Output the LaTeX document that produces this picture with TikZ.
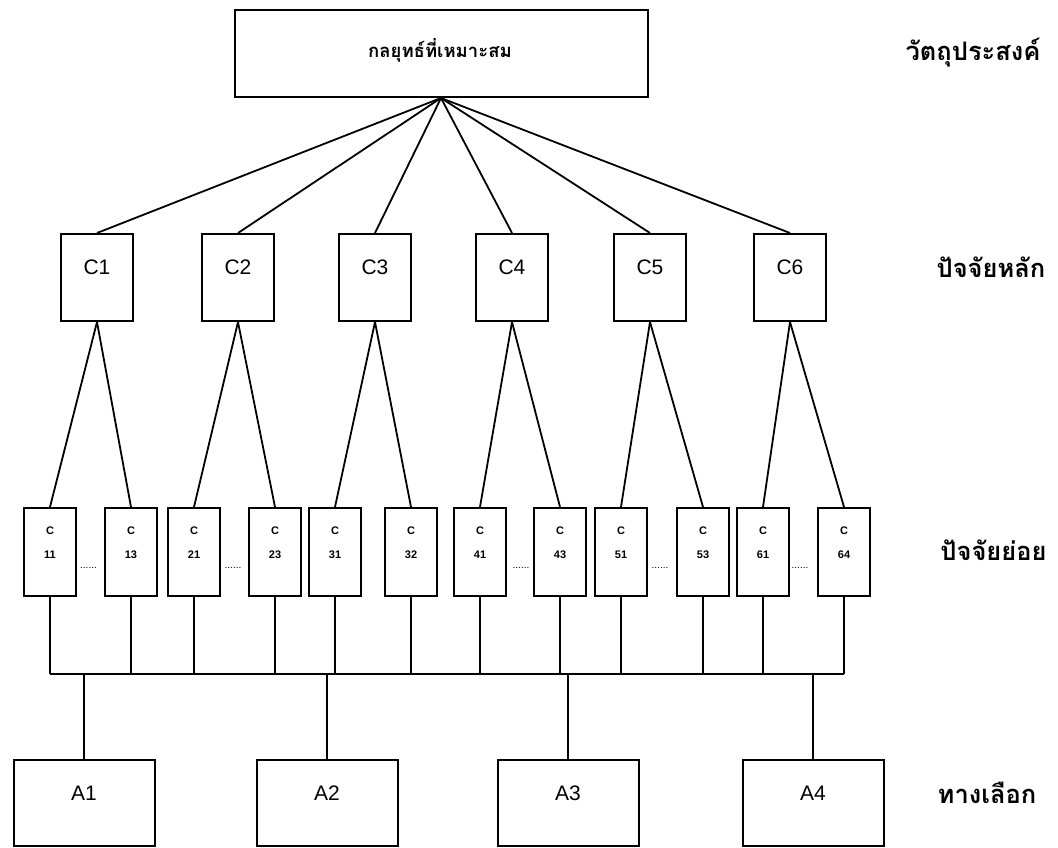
\documentclass[tikz,border=0pt]{standalone}
\usepackage{fontspec}
\setmainfont{Liberation Sans}
\newfontfamily\thaifont[Script=Thai]{Loma}
\begin{document}
\begin{tikzpicture}[x=1pt,y=-1pt,
  box/.style={draw,line width=2pt,inner sep=0pt},
  cbox/.style={box,minimum width=72pt,minimum height=87pt},
  sbox/.style={box,minimum width=52pt,minimum height=88pt},
  abox/.style={box,minimum width=141pt,minimum height=86pt},
  link/.style={line width=1.8pt},
  clab/.style={font=\fontsize{21}{21}\selectfont,inner sep=0pt},
  slab/.style={font=\bfseries\fontsize{11}{11}\selectfont,inner sep=0pt},
  thlab/.style={font=\thaifont\bfseries\fontsize{18.5}{18.5}\selectfont,inner sep=0pt},
  lvlab/.style={font=\thaifont\bfseries\fontsize{25.5}{25.5}\selectfont,inner sep=0pt},
  dotlab/.style={font=\fontsize{10}{10}\selectfont,inner sep=0pt}
]
\path[use as bounding box] (0,0) rectangle (1058,848);

% goal
\node[box,minimum width=413pt,minimum height=87pt] (goal) at (441,53.5) {};
\node[thlab] (goaltxt) at (440,50) {กลยุทธ์ที่เหมาะสม};

% main criteria
\foreach \n/\x in {1/97,2/238,3/375,4/512,5/650,6/790}{
  \node[cbox] (C\n) at (\x,277.5) {};
  \node[clab] (C\n t) at (\x,267) {C\n};
  \draw[link] (goal.south) -- (C\n.north);
}

% bus
\coordinate (busL) at (50,674);
\coordinate (busR) at (844,674);

% sub criteria
\foreach \n/\x/\p in {11/50/1,13/131/1,21/194/2,23/275/2,31/335/3,32/411/3,41/480/4,43/560/4,51/621/5,53/703/5,61/763/6,64/844/6}{
  \node[sbox] (S\n) at (\x,552) {};
  \node[slab] (S\n c) at (\x,531) {C};
  \node[slab] (S\n t) at (\x,555) {\n};
  \draw[link] (C\p.south) -- (S\n.north);
  \draw[link] (S\n.south) -- (S\n.south |- busL);
}
\draw[link] (busL) -- (busR);

% dots
\foreach \i/\x in {1/88.5,2/233,3/521,4/660,5/800}{
  \node[dotlab] (dots\i) at (\x,568) {......};
}

% alternatives
\foreach \n/\x in {1/84,2/327,3/568,4/813}{
  \node[abox] (A\n) at (\x,803) {};
  \node[clab] (A\n t) at (\x,793) {A\n};
  \draw[link] (A\n.north |- busL) -- (A\n.north);
}

% level labels
\node[lvlab] (lv1) at (973,53) {วัตถุประสงค์};
\node[lvlab] (lv2) at (991,267) {ปัจจัยหลัก};
\node[lvlab] (lv3) at (993.5,550) {ปัจจัยย่อย};
\node[lvlab] (lv4) at (987,793) {ทางเลือก};
\end{tikzpicture}
\end{document}
